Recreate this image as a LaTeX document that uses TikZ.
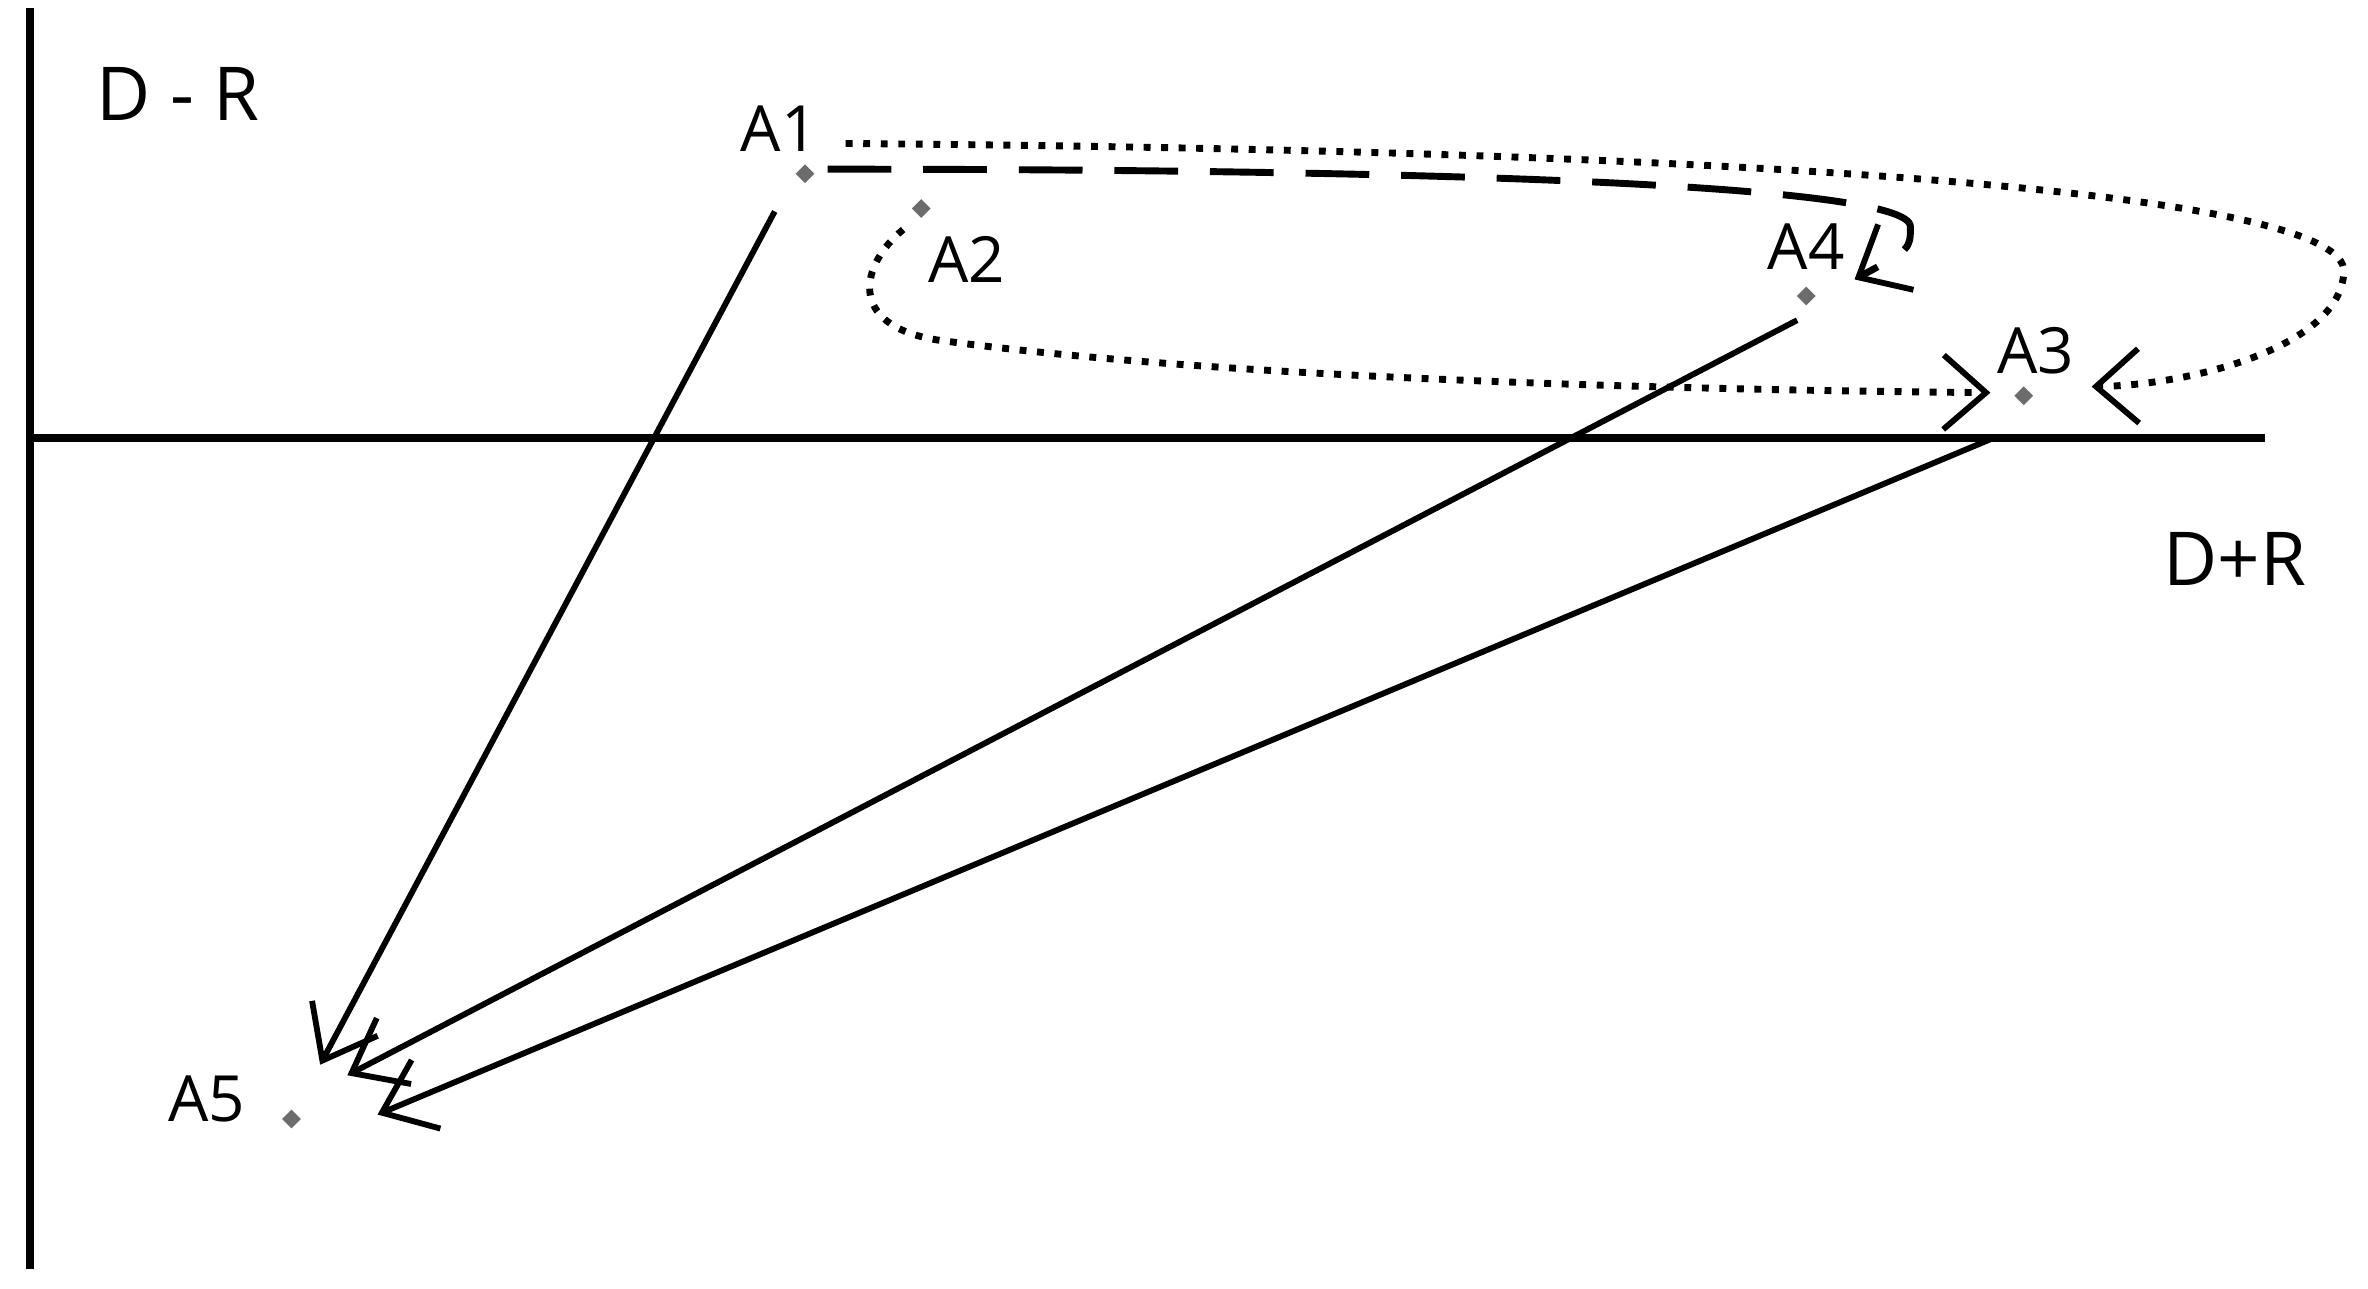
\documentclass[tikz,border=0pt]{standalone}
\usepackage{fontspec}
\setmainfont{Open Sans}
\usetikzlibrary{arrows.meta,shapes.geometric}
\begin{document}
\begin{tikzpicture}[x=0.01cm,y=-0.01cm,
  pt/.style={diamond,fill=gray!85!black,inner sep=0pt,minimum size=13*0.01cm},
  lbl/.style={font=\fontsize{12}{12}\selectfont},
  ax/.style={line width=1.6pt},
  arr/.style={line width=1.1pt,-{Straight Barb[length=9pt,width=14pt,line width=1.1pt]}},
  dotl/.style={line width=1.3pt,dotted,-{Straight Barb[length=8pt,width=14pt,line width=1.1pt]}},
  dashl/.style={line width=1.3pt,dash pattern=on 12pt off 6pt,-{Straight Barb[length=8pt,width=14pt,line width=1.1pt]}}]
\useasboundingbox (0,0) rectangle (1568,853);
\coordinate (vt) at (20,5); \coordinate (vb) at (20,840);
\coordinate (hl) at (22,290); \coordinate (hr) at (1500,290);
\draw[ax] (vt) -- (vb);
\draw[ax] (hl) -- (hr);
\node[font=\fontsize{14}{14}\selectfont] (dr) at (118,62) {D - R};
\node[font=\fontsize{14}{14}\selectfont] (dpr) at (1480,370) {D+R};
\node[pt] (A1) at (533,115) {}; \node[lbl] (l1) at (516,85) {A1};
\node[pt] (A2) at (610,138) {}; \node[lbl] (l2) at (640,172) {A2};
\node[pt] (A4) at (1196,196) {}; \node[lbl] (l4) at (1196,163) {A4};
\node[pt] (A3) at (1340,262) {}; \node[lbl] (l3) at (1348,232) {A3};
\node[pt] (A5) at (193,741) {}; \node[lbl] (l5) at (137,728) {A5};
\coordinate (s1) at (513,140); \coordinate (e1) at (212,705);
\coordinate (s4) at (1190,212); \coordinate (e4) at (230,712);
\coordinate (s3) at (1320,290); \coordinate (e3) at (250,738);
\draw[arr] (s1) -- (e1);
\draw[arr] (s4) -- (e4);
\draw[arr] (s3) -- (e3);
\coordinate (d0) at (548,112); \coordinate (d1) at (1228,185);
\draw[dashl] (d0) .. controls (900,112) and (1265,120) .. (1265,150) .. controls (1265,165) .. (d1);
\coordinate (p0) at (560,95); \coordinate (p1) at (1385,256);
\draw[dotl] (p0) .. controls (1200,100) and (1555,130) .. (1552,180) .. controls (1550,230) and (1450,255) .. (p1);
\coordinate (q0) at (598,152); \coordinate (q1) at (1318,260);
\draw[dotl] (q0) .. controls (570,175) and (560,215) .. (620,225) .. controls (800,250) and (1100,258) .. (q1);
\end{tikzpicture}
\end{document}
